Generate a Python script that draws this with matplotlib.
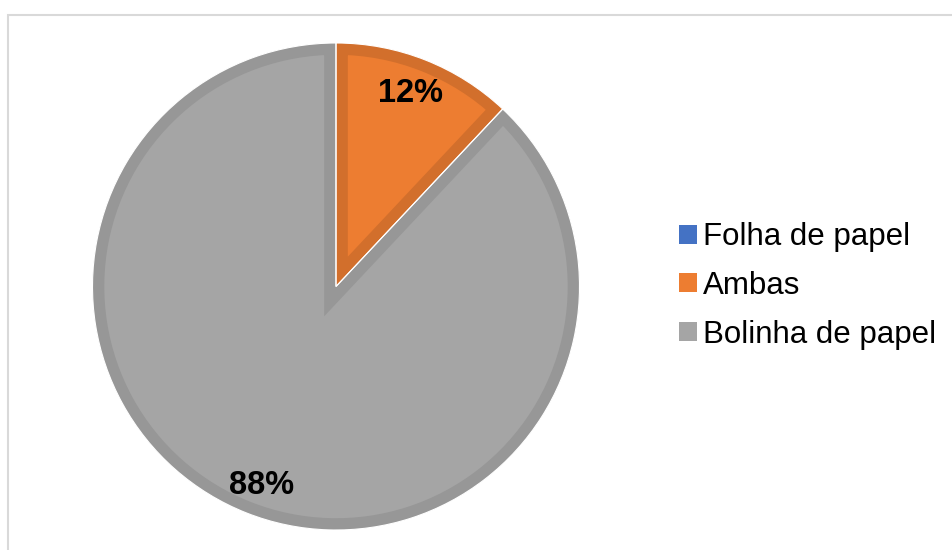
import matplotlib
matplotlib.use("Agg")
import matplotlib.pyplot as plt
from matplotlib.patches import Patch, Rectangle

plt.rcParams["font.family"] = ["Liberation Sans", "DejaVu Sans"]

# Survey answers (percent)
categories = ["Folha de papel", "Ambas", "Bolinha de papel"]
values = [0, 12, 88]
fill_colors = ["#4472C4", "#ED7D31", "#A5A5A5"]
edge_colors = ["#3B64AD", "#D26F2C", "#979797"]

W, H = 952, 550
fig = plt.figure(figsize=(W / 100, H / 100), dpi=100)
ax = fig.add_axes([0, 0, 1, 1])

cx, cy, r = 336, H - 286.5, 243.5
wedges, _ = ax.pie(values, colors=fill_colors, startangle=90, counterclock=False,
                   center=(cx, cy), radius=r, frame=True)
for w, ec, v in zip(wedges, edge_colors, values):
    if v == 0:
        w.set_visible(False)
        continue
    w.set_edgecolor(ec)
    w.set_linewidth(17)
    w.set_clip_on(True)
    w.set_clip_path(w)

# thin white seams between the slices
seams, _ = ax.pie(values, colors=["none"] * 3, startangle=90, counterclock=False,
                  center=(cx, cy), radius=r, frame=True,
                  wedgeprops=dict(edgecolor="white", linewidth=0.8))
seams[0].set_visible(False)

ax.set_xlim(0, W)
ax.set_ylim(0, H)
ax.set_aspect("auto")
ax.axis("off")

# percentage labels
label_pos = {1: (411, H - 93), 2: (262, H - 486)}
for i, (x, y) in label_pos.items():
    ax.text(x, y, f"{values[i]:.0f}%", ha="center", va="center",
            fontsize=23.5, fontweight="bold", color="black")

handles = [Patch(facecolor=c, edgecolor="none") for c in fill_colors]
leg = fig.legend(handles, categories, loc="center left",
                 bbox_to_anchor=(679 / W, 1 - 286 / H), frameon=False,
                 fontsize=22.5, handlelength=0.56, handleheight=0.56,
                 handletextpad=0.2, labelspacing=0.6, borderpad=0,
                 borderaxespad=0)

# chart area border
fig.add_artist(Rectangle((7.5 / W, -0.05), 1.1, (H - 14.5) / H + 0.05,
                         transform=fig.transFigure, facecolor="none",
                         edgecolor="#D9D9D9", linewidth=1.5))

fig.savefig("out.png", dpi=100)
